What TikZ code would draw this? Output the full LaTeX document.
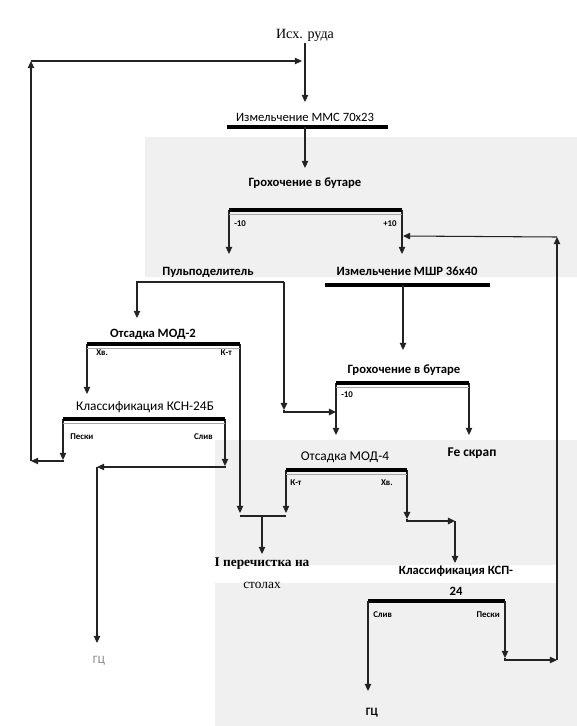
\documentclass[tikz,border=0pt]{standalone}
\usepackage{fontspec}
\setmainfont{Liberation Serif}
\setsansfont{Carlito}
\usetikzlibrary{arrows.meta}
\definecolor{fondo}{RGB}{240,240,240}
\definecolor{trazo}{RGB}{35,35,35}

\begin{document}
\begin{tikzpicture}[
  x=0.025cm, y=-0.025cm,
  font=\sffamily,
  etapa/.style={font=\sffamily\fontsize{9}{10}\selectfont, inner sep=1pt},
  etapab/.style={font=\sffamily\bfseries\fontsize{9}{10}\selectfont, inner sep=1pt},
  rotulo/.style={font=\sffamily\bfseries\fontsize{6.3}{7}\selectfont, inner sep=0pt},
  flecha/.style={draw=trazo, line width=0.75pt,
                 -{Triangle[length=5pt,width=4.5pt]}},
  gruesa/.style={flecha, line width=1.2pt},
  barra/.style={draw=black, line width=2.4pt},
  fina/.style={draw=gray!70, line width=0.5pt},
]
\useasboundingbox (0,0) rectangle (577,726);
% --- Fondo del escaneo ------------------------------------------------------
\fill[fondo] (145,137) rectangle (577,277);
\fill[fondo] (215,440) rectangle (577,726);
\fill[white] (215,565) rectangle (557,583);
% --- Исходная руда и измельчение ММС ---------------------------------------
\node[inner sep=1pt, font=\rmfamily\fontsize{10}{12}\selectfont] (ruda)
  at (305,35) {Исх. руда};
\node[etapa] (mms) at (305,117) {Измельчение ММС 70х23};
\coordinate (mms-in) at (305,102);
\coordinate (mms-a) at (227,127);
\coordinate (mms-b) at (388,127);
\coordinate (mms-c) at (305,127);
\draw[barra] (mms-a) -- (mms-b);
\draw[flecha] (ruda.south) -- (mms-in);
% --- Грохочение в бутаре (1) -----------------------------------------------
\node[etapab] (gb1) at (305,183) {Грохочение в бутаре};
\coordinate (gb1-in) at (305,168);
\coordinate (gb1-a) at (229,210);
\coordinate (gb1-b) at (402,210);
\draw[flecha] (mms-c) -- (gb1-in);
\node[rotulo, anchor=west] at (234,224) {-10};
\node[rotulo, anchor=east] at (397,224) {+10};
% --- Пульподелитель ----------------------------------------------------------
\node[etapab] (pulpa) at (208,272) {Пульподелитель};
\coordinate (pulpa-in) at (229,254);
\coordinate (pulpa-a) at (137,282);
\coordinate (pulpa-b) at (284,282);
\coordinate (pulpa-c) at (284,410);
\draw[flecha] (gb1-a) -- (pulpa-in);
% --- Измельчение МШР ---------------------------------------------------------
\node[etapab] (mshr) at (407,271) {Измельчение МШР 36х40};
\coordinate (mshr-in) at (402,254);
\coordinate (mshr-a) at (325,285);
\coordinate (mshr-b) at (490,285);
\coordinate (mshr-c) at (403,285);
\coordinate (gb1-ret) at (403,236);
\draw[flecha] (gb1-b) -- (mshr-in);
\draw[barra] (mshr-a) -- (mshr-b);
% --- Отсадка МОД-2 -----------------------------------------------------------
\node[etapab] (mod2) at (153,334) {Отсадка МОД-2};
\coordinate (mod2-in) at (137,318);
\coordinate (mod2-a) at (87,344);
\coordinate (mod2-b) at (240,344);
\coordinate (mod2-c) at (240,513);
\node[rotulo, anchor=west] at (96,353) {Хв.};
\node[rotulo, anchor=east] at (232,353) {К-т};
\draw[flecha] (pulpa-b) -- (pulpa-a) -- (mod2-in);
% --- Грохочение в бутаре (2) -----------------------------------------------
\node[etapab] (gb2) at (404,370) {Грохочение в бутаре};
\coordinate (gb2-in) at (403,350);
\coordinate (gb2-a) at (336,383);
\coordinate (gb2-b) at (469,383);
\coordinate (gb2-lado) at (336,412);
\node[rotulo, anchor=west] at (341,395) {-10};
\draw[flecha] (mshr-c) -- (gb2-in);
\draw[gruesa] (pulpa-b) -- (pulpa-c);
\draw[gruesa] (pulpa-c) |- (gb2-lado);
\node[etapab, font=\sffamily\bfseries\fontsize{9.5}{10}\selectfont] (fe)
  at (472,453) {Fe скрап};
\coordinate (fe-in) at (469,435);
\draw[flecha] (gb2-b) -- (fe-in);
% --- Классификация КСН-24Б ---------------------------------------------------
\node[etapa, font=\sffamily\fontsize{9.5}{10}\selectfont] (ksn)
  at (145,407) {Классификация КСН-24Б};
\coordinate (ksn-in) at (87,394);
\coordinate (ksn-a) at (63,419);
\coordinate (ksn-b) at (225,419);
\coordinate (ksn-arena) at (63,460);
\coordinate (ksn-slivo) at (225,466);
\node[rotulo, anchor=west] at (70,437) {Пески};
\node[rotulo, anchor=east] at (213,437) {Слив};
\draw[flecha] (mod2-a) -- (ksn-in);
% --- Отсадка МОД-4 -----------------------------------------------------------
\node[etapa, font=\sffamily\fontsize{9.5}{10}\selectfont] (mod4)
  at (345,457) {Отсадка МОД-4};
\coordinate (mod4-in) at (336,435);
\coordinate (mod4-a) at (286,470);
\coordinate (mod4-b) at (407,470);
\coordinate (mod4-c) at (286,513);
\coordinate (mod4-d) at (407,519);
\coordinate (mod4-e) at (455,521);
\node[rotulo, anchor=west] at (290,483) {К-т};
\node[rotulo, anchor=east] at (393,483) {Хв.};
\draw[flecha] (gb2-a) -- (mod4-in);
% --- I перечистка на столах ----------------------------------------------------
\node[inner sep=0pt, font=\rmfamily\bfseries\fontsize{9.5}{11}\selectfont]
  (perech) at (262,564) {I перечистка на};
\node[inner sep=0pt, font=\rmfamily\fontsize{9.5}{11}\selectfont]
  (perech2) at (262,585) {столах};
\coordinate (perech-in) at (262,554);
\coordinate (junta-a) at (240,516);
\coordinate (junta-b) at (286,516);
\coordinate (junta-c) at (262,516);
\draw[flecha] (mod2-b) -- (mod2-c);
\draw[flecha] (mod4-a) -- (mod4-c);
\draw[flecha, -] (junta-a) -- (junta-b);
\draw[flecha] (junta-c) -- (perech-in);
% --- Классификация КСП-24 -----------------------------------------------------
\node[etapab] (ksp) at (456,571) {Классификация КСП-};
\node[etapab] (ksp2) at (456,591) {24};
\coordinate (ksp-in) at (455,563);
\coordinate (ksp-a) at (368,601);
\coordinate (ksp-b) at (505,601);
\coordinate (ksp-arena) at (505,658);
\node[rotulo, anchor=west] at (373,615) {Слив};
\node[rotulo, anchor=east] at (500,615) {Пески};
\draw[gruesa] (mod4-b) -- (mod4-d);
\draw[gruesa] (mod4-d) |- (mod4-e);
\draw[flecha] (mod4-e) -- (ksp-in);
\draw[barra] (ksp-a) -- (ksp-b);
% --- Циркуляция к МШР ---------------------------------------------------------
\coordinate (ret-a) at (557,660);
\coordinate (ret-b) at (557,237);
\draw[flecha] (ksp-b) -- (ksp-arena);
\draw[flecha] (ksp-arena) |- (ret-a);
\draw[flecha] (ret-a) -- (ret-b);
\draw[flecha] (ret-b) -- (gb1-ret);
% --- Циркуляция к ММС ---------------------------------------------------------
\coordinate (izq-a) at (31,461);
\coordinate (izq-b) at (31,61);
\coordinate (ruda-ret) at (302,61);
\draw[flecha] (ksn-a) -- (ksn-arena);
\draw[flecha] (ksn-arena) |- (izq-a);
\draw[flecha] (izq-a) -- (izq-b);
\draw[flecha] (izq-b) -- (ruda-ret);
% --- Слив в ГЦ ------------------------------------------------------------------
\node[inner sep=0pt, text=gray, font=\sffamily\fontsize{8}{9}\selectfont]
  (gc1) at (99,661) {ГЦ};
\node[inner sep=0pt, font=\sffamily\bfseries\fontsize{8}{9}\selectfont]
  (gc2) at (372,713) {ГЦ};
\coordinate (gc1-in) at (97,643);
\coordinate (gc2-in) at (368,691);
\coordinate (ksn-giro) at (97,467);
\draw[flecha] (ksn-b) -- (ksn-slivo);
\draw[flecha] (ksn-slivo) |- (ksn-giro);
\draw[flecha] (ksn-giro) -- (gc1-in);
\draw[flecha] (ksp-a) -- (gc2-in);
% --- Двойные линии грохотов и отсадок ------------------------------------------
\foreach \n in {gb1, gb2, mod2, ksn, mod4} {
  \draw[barra] (\n-a) -- (\n-b);
  \draw[fina] ([yshift=-2.8pt]\n-a) -- ([yshift=-2.8pt]\n-b);
}
\end{tikzpicture}
\end{document}
